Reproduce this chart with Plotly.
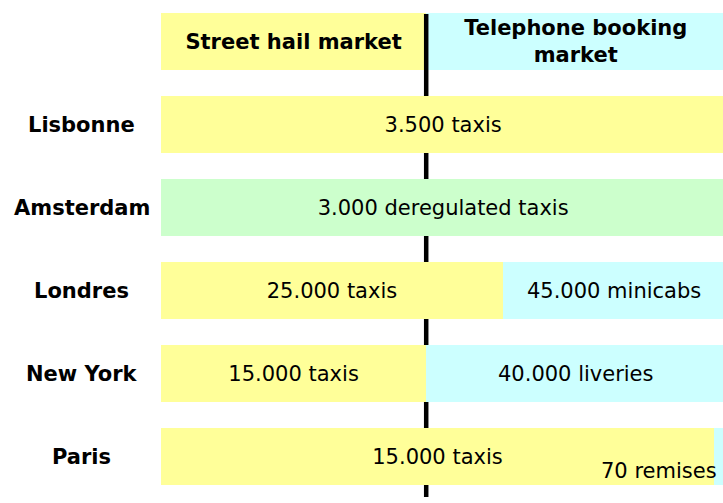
import plotly.graph_objects as go

# ---- data ----
rows = ["Paris", "New York", "Londres", "Amsterdam", "Lisbonne", "header"]
city_labels = ["Paris", "New York", "Londres", "Amsterdam", "Lisbonne"]

# share of the bar width (percent) for each market segment
street_width = [98, 47, 60.6, 0, 100, 47]
street_text = ["15.000 taxis", "15.000 taxis", "25.000 taxis", "", "3.500 taxis",
               "<b>Street hail market</b>"]
dereg_width = [0, 0, 0, 100, 0, 0]
dereg_text = ["", "", "", "3.000 deregulated taxis", "", ""]
phone_width = [2, 53, 39.4, 0, 0, 53]
phone_text = ["", "40.000 liveries", "45.000 minicabs", "", "",
              "<b>Telephone booking<br>market</b>"]
paris_phone_note = "70 remises"
divider_x = 47

YELLOW = "#FFFF99"
BLUE = "#CCFFFF"
GREEN = "#CCFFCC"
FONT = "DejaVu Sans"
FS = 21

fig = go.Figure()
for widths, texts, color in [(street_width, street_text, YELLOW),
                             (dereg_width, dereg_text, GREEN),
                             (phone_width, phone_text, BLUE)]:
    fig.add_trace(go.Bar(
        y=rows, x=widths, orientation="h", text=texts,
        marker=dict(color=color, line=dict(width=0)),
        textposition="inside", insidetextanchor="middle", textangle=0,
        insidetextfont=dict(family=FONT, size=FS, color="black"),
        hoverinfo="skip", showlegend=False,
    ))

# city labels
for c in city_labels:
    fig.add_annotation(x=-0.1406, xref="paper", y=c, yref="y",
                       text=f"<b>{c}</b>", showarrow=False,
                       xanchor="center", yanchor="middle",
                       font=dict(family=FONT, size=FS, color="black"))

# Paris note
fig.add_annotation(x=98.9, xref="x", y="Paris", yref="y", yshift=-14,
                   text=paris_phone_note, showarrow=False,
                   xanchor="right", yanchor="middle",
                   font=dict(family=FONT, size=FS, color="black"))

# divider line (below bars) and its header part (above)
fig.add_shape(type="line", x0=divider_x, x1=divider_x, xref="x",
              y0=1 - 14 / 498, y1=1 - 497 / 498, yref="paper",
              line=dict(color="black", width=4.5), layer="below")
fig.add_shape(type="line", x0=divider_x, x1=divider_x, xref="x",
              y0=5.5 - 70 / 83, y1=5.5 - 14 / 83, yref="y",
              line=dict(color="black", width=4.5), layer="above")

fig.update_layout(
    barmode="stack", bargap=0.325,
    width=723, height=503,
    margin=dict(l=161, r=0, t=0, b=5),
    paper_bgcolor="white", plot_bgcolor="white",
    xaxis=dict(range=[0, 99.6], visible=False, fixedrange=True),
    yaxis=dict(categoryorder="array", categoryarray=rows, range=[-0.5, 5.5],
               visible=False, fixedrange=True),
    uniformtext=dict(minsize=FS, mode="show"),
)

fig.write_html("out.html", config={"displayModeBar": False})
